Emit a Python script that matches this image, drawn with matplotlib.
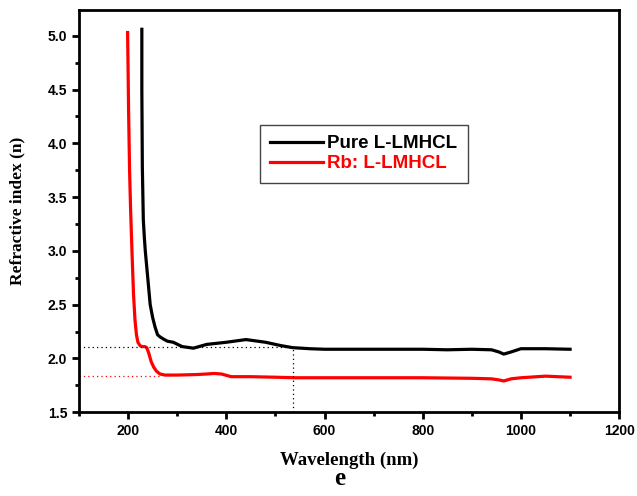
import matplotlib
matplotlib.use("Agg")
import matplotlib.pyplot as plt
from matplotlib.ticker import MultipleLocator

# Pure L-LMHCL
wl_pure = [228, 228, 229, 231, 233, 235, 240, 245, 250, 255, 260, 265, 272, 280,
           292, 310, 333, 360, 400, 440, 480, 510, 535, 570, 600, 700, 800, 850,
           900, 940, 955, 965, 980, 1000, 1050, 1100]
n_pure = [5.06, 4.5, 3.78, 3.29, 3.13, 3.0, 2.75, 2.5, 2.38, 2.29, 2.22, 2.20, 2.18,
          2.16, 2.15, 2.11, 2.095, 2.13, 2.15, 2.175, 2.15, 2.12, 2.10, 2.09, 2.085,
          2.085, 2.085, 2.08, 2.085, 2.08, 2.06, 2.04, 2.06, 2.09, 2.09, 2.085]

# Rb: L-LMHCL
wl_rb = [199, 200, 201, 203, 205, 208, 211, 214, 217, 220, 224, 228, 234, 238, 242,
         247, 252, 258, 265, 275, 300, 340, 360, 375, 390, 410, 450, 500, 540, 600,
         700, 800, 900, 940, 955, 965, 980, 1000, 1050, 1100]
n_rb = [5.03, 4.68, 4.3, 3.75, 3.4, 2.98, 2.6, 2.36, 2.22, 2.15, 2.12, 2.11, 2.11,
        2.10, 2.05, 1.97, 1.92, 1.88, 1.855, 1.845, 1.845, 1.85, 1.855, 1.86, 1.855,
        1.83, 1.83, 1.825, 1.82, 1.82, 1.82, 1.82, 1.815, 1.81, 1.80, 1.79, 1.81,
        1.82, 1.835, 1.825]

# guide lines
guide_wl = 535
guide_pure = 2.11
guide_rb = 1.835
guide_rb_end = 265

fig = plt.figure(figsize=(6.37, 4.96), dpi=100)
ax = fig.add_axes([0.124, 0.169, 0.848, 0.811])

ax.plot(wl_pure, n_pure, color="black", lw=2.3, label="Pure L-LMHCL")
ax.plot(wl_rb, n_rb, color="red", lw=2.3, label="Rb: L-LMHCL")

ax.plot([100, guide_wl], [guide_pure, guide_pure], color="black", lw=0.9, ls=(0, (1, 2.5)))
ax.plot([100, guide_rb_end], [guide_rb, guide_rb], color="red", lw=0.9, ls=(0, (1, 2.5)))
ax.plot([guide_wl, guide_wl], [1.5, 2.095], color="black", lw=0.9, ls=(0, (1, 2.5)))

ax.set_xlim(100, 1200)
ax.set_ylim(1.5, 5.24)
ax.xaxis.set_major_locator(MultipleLocator(200))
ax.xaxis.set_minor_locator(MultipleLocator(100))
ax.yaxis.set_major_locator(MultipleLocator(0.5))
ax.yaxis.set_minor_locator(MultipleLocator(0.25))
ax.tick_params(which="major", direction="out", length=5, width=2, labelsize=10)
ax.tick_params(which="minor", direction="out", length=3, width=2)
for lab in ax.get_xticklabels() + ax.get_yticklabels():
    lab.set_fontfamily("Liberation Sans")
    lab.set_fontweight("bold")
for sp in ax.spines.values():
    sp.set_linewidth(2)

ax.set_xlabel("Wavelength (nm)", fontfamily="Liberation Serif", fontweight="bold",
              fontsize=13.5, labelpad=10)
ax.set_ylabel("Refractive index (n)", fontfamily="Liberation Serif", fontweight="bold",
              fontsize=12.5)
ax.yaxis.set_label_coords(-0.1, 0.5)
fig.text(0.533, 0.022, "e", fontfamily="Liberation Serif", fontweight="bold",
         fontsize=18, ha="center", va="baseline")

leg = ax.legend(loc="upper left", bbox_to_anchor=(0.335, 0.714), borderaxespad=0,
                fancybox=False, edgecolor="#444444", framealpha=1,
                prop={"family": "Liberation Sans", "weight": "bold", "size": 13.5},
                handlelength=2.8, handletextpad=0.25, borderpad=0.55, labelspacing=0.15)
leg.get_frame().set_linewidth(1)
for txt, c in zip(leg.get_texts(), ["black", "red"]):
    txt.set_color(c)

fig.savefig("out.png", dpi=100)
